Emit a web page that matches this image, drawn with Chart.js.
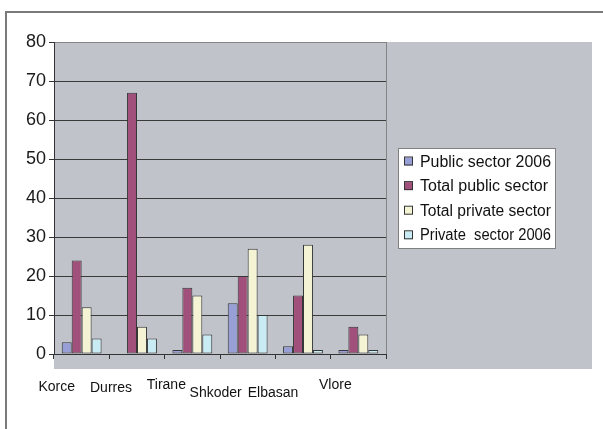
<!DOCTYPE html>
<html>
<head>
<meta charset="utf-8">
<title>Public and private sector by city</title>
<script src="https://cdn.jsdelivr.net/npm/chart.js@4.4.1/dist/chart.umd.min.js"></script>
<style>
  body { margin: 0; background: #fff; }
  canvas { display: block; }
</style>
</head>
<body>
<canvas id="sectorChart" width="603" height="429"></canvas>
<script>
const cities = ['Korce', 'Durres', 'Tirane', 'Shkoder', 'Elbasan', 'Vlore'];
const seriesNames = ['Public sector 2006', 'Total public sector', 'Total private sector', 'Private  sector 2006'];
const publicSector2006 = [3, 0, 1, 13, 2, 1];
const totalPublicSector = [24, 67, 17, 20, 15, 7];
const totalPrivateSector = [12, 7, 15, 27, 28, 5];
const privateSector2006 = [4, 4, 5, 10, 1, 1];
const yMax = 80;
const yStep = 10;

const FONT = '"Liberation Sans", Arial, sans-serif';
const colors = ['#979fd6', '#a0507b', '#f4f4d4', '#c9ecf4'];

// city names are nudged left of their bar groups, some sit lower than others
const cityShift = [[-25, 37], [-26, 38], [-26, 35], [-32, 43], [-30, 43], [-23, 35]];

const backdrop = {
  id: 'backdrop',
  beforeDraw(chart) {
    const { ctx, chartArea: a } = chart;
    ctx.save();
    // grey panel behind the plot and the legend
    ctx.fillStyle = '#c0c3ca';
    ctx.fillRect(a.left, a.top, 592 - a.left, a.bottom + 15 - a.top);
    // outer frame, only top and left edges show
    ctx.strokeStyle = '#7a7a7a';
    ctx.lineWidth = 2;
    ctx.beginPath();
    ctx.moveTo(6, chart.height);
    ctx.lineTo(6, 12);
    ctx.lineTo(chart.width, 12);
    ctx.stroke();
    ctx.restore();
  },
  afterDraw(chart) {
    const { ctx, chartArea: a } = chart;
    const xScale = chart.scales.x;
    ctx.save();

    // right edge of the plot area
    ctx.strokeStyle = '#858585';
    ctx.lineWidth = 1;
    ctx.beginPath();
    ctx.moveTo(a.right + 0.5, a.top);
    ctx.lineTo(a.right + 0.5, a.bottom);
    ctx.stroke();

    // category names
    ctx.fillStyle = '#111';
    ctx.font = '14px ' + FONT;
    ctx.textAlign = 'center';
    ctx.textBaseline = 'alphabetic';
    cities.forEach((name, i) => {
      const [dx, dy] = cityShift[i];
      ctx.fillText(name, xScale.getPixelForValue(i) + dx, a.bottom + dy);
    });

    // legend box
    const lx = 398, ly = 148, lw = 157, lh = 100;
    ctx.fillStyle = '#fff';
    ctx.fillRect(lx, ly, lw, lh);
    ctx.strokeStyle = '#808080';
    ctx.strokeRect(lx + 0.5, ly + 0.5, lw, lh);
    ctx.font = '16px ' + FONT;
    ctx.textAlign = 'left';
    chart.data.datasets.forEach((ds, i) => {
      const cy = 161.5 + i * 24.6;
      ctx.fillStyle = ds.backgroundColor;
      ctx.fillRect(405, cy - 4, 8, 8);
      ctx.strokeStyle = '#333';
      ctx.strokeRect(404.5, cy - 4.5, 8, 8);
      ctx.fillStyle = '#111';
      ctx.fillText(ds.label, 420, cy + 5, 131);
    });
    ctx.restore();
  }
};

const seriesValues = [publicSector2006, totalPublicSector, totalPrivateSector, privateSector2006];

new Chart(document.getElementById('sectorChart'), {
  type: 'bar',
  data: {
    labels: cities,
    datasets: seriesNames.map((name, i) => ({
      label: name,
      data: seriesValues[i],
      backgroundColor: colors[i],
      borderColor: '#363636',
      borderWidth: 1,
      borderSkipped: false,
      categoryPercentage: 0.72,
      barPercentage: 1.0
    }))
  },
  options: {
    responsive: false,
    animation: false,
    layout: { padding: { top: 42, right: 217, bottom: 0, left: 0 } },
    plugins: {
      legend: { display: false },
      tooltip: { enabled: false }
    },
    scales: {
      x: {
        offset: true,
        grid: {
          offset: true,
          drawOnChartArea: false,
          drawTicks: true,
          tickLength: 5,
          tickColor: '#333'
        },
        border: { color: '#333', width: 1 },
        ticks: { display: false },
        afterFit(scale) { scale.height = 75; }
      },
      y: {
        min: 0,
        max: yMax,
        ticks: {
          stepSize: yStep,
          color: '#1a1a1a',
          font: { family: FONT, size: 18 },
          padding: 3
        },
        grid: {
          color: ctx => (ctx.tick && ctx.tick.value === yMax ? '#858585' : '#3a3a3a'),
          tickColor: '#333',
          tickLength: 5
        },
        border: { color: '#333', width: 1 },
        afterFit(scale) { scale.width = 54; }
      }
    }
  },
  plugins: [backdrop]
});
</script>
</body>
</html>
